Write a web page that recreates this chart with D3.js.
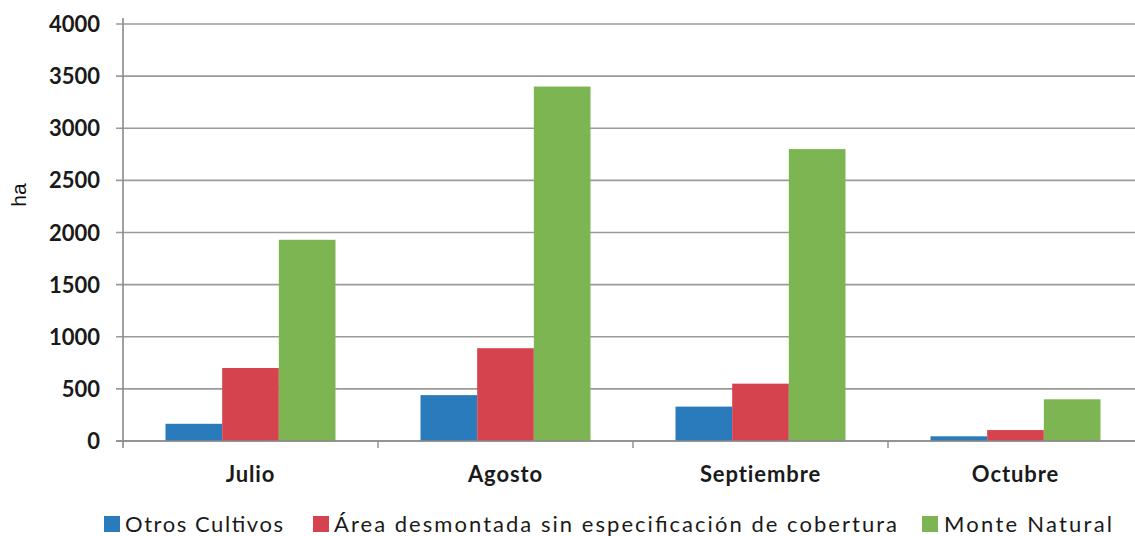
<!DOCTYPE html>
<html><head><meta charset="utf-8">
<script src="https://cdn.jsdelivr.net/npm/d3@7"></script>
<style>body{margin:0;background:#fff}svg{display:block}</style>
</head><body>
<svg id="c" width="1135" height="536"></svg>
<script>
const categories = ["Julio","Agosto","Septiembre","Octubre"];
const seriesNames = ["Otros Cultivos","Área desmontada sin especificación de cobertura","Monte Natural"];
const otrosCultivos = [165, 440, 330, 45];
const areaDesmontada = [700, 890, 550, 105];
const monteNatural = [1930, 3400, 2800, 400];
const yTicks = [0,500,1000,1500,2000,2500,3000,3500,4000];
const colors = ["#2a7bbb","#d5434e","#7db552"];
const series = [otrosCultivos, areaDesmontada, monteNatural];

const svg = d3.select("#c");
const x0 = d3.scaleBand().domain(categories).range([123, 1143]).paddingInner(0).paddingOuter(0);
const x1 = d3.scaleBand().domain(d3.range(3)).range([0, x0.bandwidth()]).paddingOuter(0.75).paddingInner(0);
const y = d3.scaleLinear().domain([0,4000]).range([441, 24]);

// gridlines
svg.append("g").selectAll("line").data(yTicks).join("line")
  .attr("x1",116).attr("x2",1135).attr("y1",d=>y(d)).attr("y2",d=>y(d))
  .attr("stroke","#9a9a9a").attr("stroke-width",1.6);

// y axis labels
svg.append("g").selectAll("text").data(yTicks).join("text")
  .attr("x",100).attr("y",d=>y(d)+8).attr("text-anchor","end")
  .attr("font-family","Lato, 'Open Sans', sans-serif").attr("font-weight","bold").attr("font-size",22)
  .attr("fill","#1a1a1a").text(d=>d);

// bars
const g = svg.append("g");
categories.forEach((c,i)=>{
  series.forEach((s,j)=>{
    g.append("rect").attr("x",x0(c)+x1(j)).attr("width",x1.bandwidth())
      .attr("y",y(s[i])).attr("height",y(0)-y(s[i])).attr("fill",colors[j]);
  });
});

// axes lines
svg.append("line").attr("x1",123).attr("x2",123).attr("y1",18).attr("y2",448).attr("stroke","#8a8a8a").attr("stroke-width",1.6);
svg.append("line").attr("x1",116).attr("x2",1135).attr("y1",y(0)).attr("y2",y(0)).attr("stroke","#8a8a8a").attr("stroke-width",1.6);
svg.append("g").selectAll("line").data(categories.slice(1)).join("line")
  .attr("x1",d=>x0(d)).attr("x2",d=>x0(d)).attr("y1",441).attr("y2",448)
  .attr("stroke","#8a8a8a").attr("stroke-width",1.4);

// category labels
svg.append("g").selectAll("text").data(categories).join("text")
  .attr("x",d=>x0(d)+x0.bandwidth()/2).attr("y",482).attr("text-anchor","middle")
  .attr("font-family","Lato, 'Open Sans', sans-serif").attr("font-weight","bold").attr("font-size",22)
  .attr("letter-spacing",0.9)
  .attr("fill","#1a1a1a").text(d=>d);

// y axis title
svg.append("text").attr("transform","translate(26,195) rotate(-90)").attr("text-anchor","middle")
  .attr("font-family","'Liberation Sans', Arial, sans-serif").attr("font-size",21).attr("fill","#111").text("ha");

// legend
const leg = [
  {sx:104, tx:125, tw:158},
  {sx:313, tx:334, tw:563},
  {sx:922, tx:944, tw:168}
];
const lg = svg.append("g");
seriesNames.forEach((n,j)=>{
  lg.append("rect").attr("x",leg[j].sx).attr("y",516).attr("width",16).attr("height",16).attr("fill",colors[j]);
  lg.append("text").attr("x",leg[j].tx).attr("y",532)
    .attr("font-family","Lato, 'Open Sans', sans-serif").attr("font-size",22).attr("fill","#1a1a1a")
    .attr("textLength",leg[j].tw).attr("lengthAdjust","spacing").text(n);
});
</script>
</body></html>
